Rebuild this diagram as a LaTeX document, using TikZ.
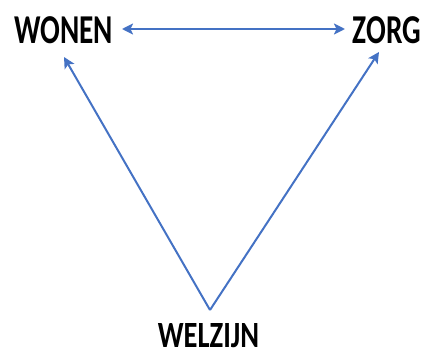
\documentclass[tikz,border=0pt]{standalone}
\usepackage{fontspec}
\setmainfont{Carlito}
\usetikzlibrary{arrows.meta}
\definecolor{arrowblue}{HTML}{4472C4}
\tikzset{
  lbl/.style={inner sep=0pt, anchor=base, font=\bfseries\fontsize{41}{41}\selectfont},
  blbl/.style={inner sep=0pt, anchor=base, font=\bfseries\fontsize{37}{37}\selectfont},
  tip/.tip={Stealth[length=11pt,width=11pt,inset=2.5pt]},
  conn/.style={draw=arrowblue, line width=2pt, -tip},
  dconn/.style={draw=arrowblue, line width=2pt, tip-tip},
}
\newcommand{\sq}[1]{\scalebox{0.713}[1]{#1}}
\begin{document}
\begin{tikzpicture}[x=1pt,y=-1pt]
\useasboundingbox (0,0) rectangle (424,351);
\node[lbl] (wonen) at (63.5,43) {\sq{WONEN}};
\node[lbl] (zorg) at (387,43) {\sq{ZORG}};
\node[blbl] (welzijn) at (208.5,347) {\scalebox{0.77}[1]{WELZIJN}};
\coordinate (apex) at (210,310);
\coordinate (wtip) at (64,57);
\coordinate (ztip) at (379,52);
\coordinate (hl) at (122,29);
\coordinate (hr) at (345,29);
\draw[dconn] (hl) -- (hr);
\draw[conn] (apex) -- (wtip);
\draw[conn] (apex) -- (ztip);
\end{tikzpicture}
\end{document}
